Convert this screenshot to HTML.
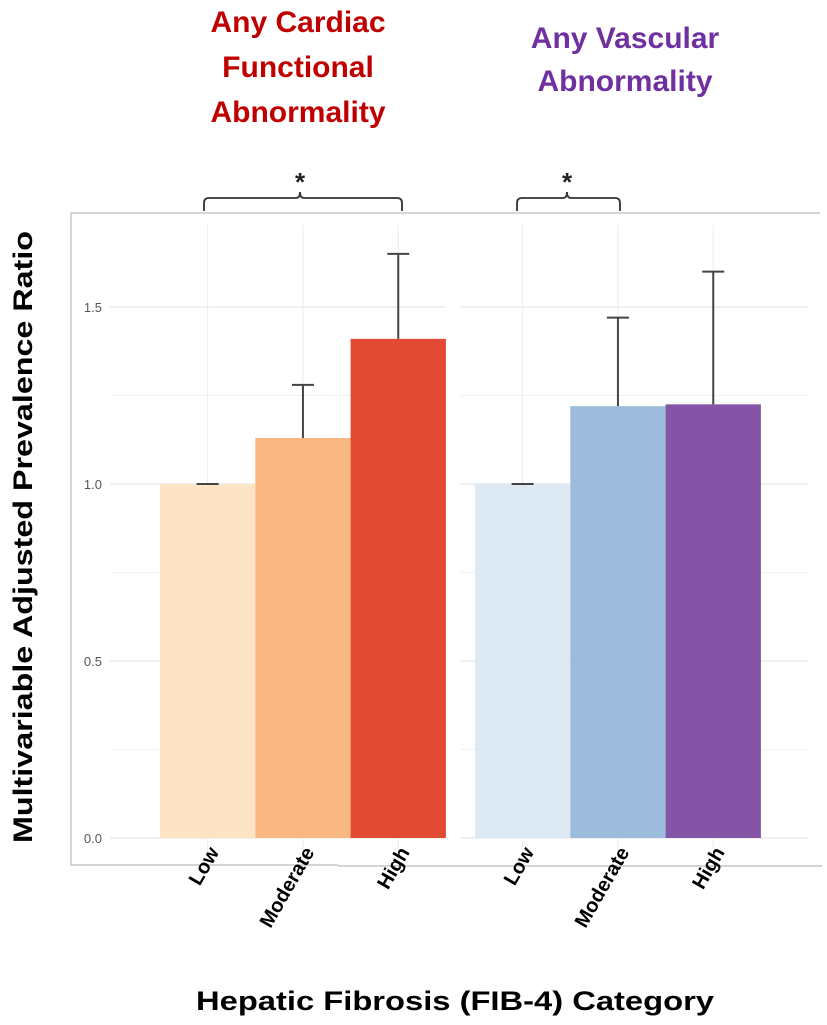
<!DOCTYPE html>
<html><head><meta charset="utf-8"><style>
html,body{margin:0;padding:0;background:#fff;}
svg{display:block;font-family:"Liberation Sans",Arial,sans-serif;}
</style></head><body>
<svg id="chart" width="827" height="1025" viewBox="0 0 827 1025">
<g>
<text x="298" y="32" text-anchor="middle" font-size="30" font-weight="bold" fill="#c00000"><tspan x="298">Any Cardiac</tspan><tspan x="298" dy="45">Functional</tspan><tspan x="298" dy="45">Abnormality</tspan></text>
<text x="625" y="48" text-anchor="middle" font-size="30" font-weight="bold" fill="#7030a0"><tspan x="625">Any Vascular</tspan><tspan x="625" dy="43">Abnormality</tspan></text>
</g>
<g id="grid"></g>
<g stroke="#bbb" stroke-width="1.2" fill="none">
<path d="M71,213 H820 M71,213 V865 H338 M338,866 H822"/>
</g>
<g id="bars"></g>
<g id="yaxis"></g>
<g id="xaxis"></g>
<g stroke="#333" stroke-width="1.8" fill="none">
<path d="M204,211 V203 Q204,198 209,198 H296 Q300,198 300,192 Q300,198 304,198 H397 Q402,198 402,203 V211"/>
<path d="M517,211 V203 Q517,198 522,198 H563 Q567,198 567,192 Q567,198 571,198 H615 Q620,198 620,203 V211"/>
</g>
<text x="300" y="191" text-anchor="middle" font-size="26" font-weight="bold" fill="#222">*</text>
<text x="567" y="191" text-anchor="middle" font-size="26" font-weight="bold" fill="#222">*</text>
<text transform="translate(32,537) rotate(-90)" text-anchor="middle" font-size="27" font-weight="bold" fill="#000" textLength="612" lengthAdjust="spacingAndGlyphs">Multivariable Adjusted Prevalence Ratio</text>
<text x="455" y="1010" text-anchor="middle" font-size="27" font-weight="bold" fill="#000" textLength="518" lengthAdjust="spacingAndGlyphs">Hepatic Fibrosis (FIB-4) Category</text>
</svg>
<script>
const categories = ["Low","Moderate","High"];
const cardiacValues = [1.0, 1.13, 1.41];
const cardiacUpper = [1.0, 1.28, 1.65];
const vascularValues = [1.0, 1.22, 1.225];
const vascularUpper = [1.0, 1.47, 1.60];
const yTicks = [0.0, 0.5, 1.0, 1.5];
const yTickLabels = ["0.0","0.5","1.0","1.5"];
const yMinor = [0.25, 0.75, 1.25];

const NS = "http://www.w3.org/2000/svg";
const y = v => 838 - v * 354;
const panels = [
  {start:160, vals:cardiacValues, up:cardiacUpper, colors:["#fde4c4","#f9b882","#e24a33"], name:"cardiac", gx0:110, gx1:445},
  {start:475, vals:vascularValues, up:vascularUpper, colors:["#deeaf3","#9dbcdb","#8455a6"], name:"vascular", gx0:460, gx1:808}
];
const bw = 95.3;
const xc = (p,i) => p.start + bw*i + bw/2;
function mk(tag, attrs, parent){const e=document.createElementNS(NS,tag);for(const k in attrs)e.setAttribute(k,attrs[k]);parent.appendChild(e);return e;}
const grid=document.getElementById('grid'), bars=document.getElementById('bars'), ya=document.getElementById('yaxis'), xa=document.getElementById('xaxis');
panels.forEach(p=>{
  yTicks.forEach(t=>{const l=mk('line',{x1:p.gx0,x2:p.gx1,y1:y(t),y2:y(t),stroke:'#e6e6e6','stroke-width':1.3},grid);
    
    });
  yMinor.forEach(t=>{const l=mk('line',{x1:p.gx0,x2:p.gx1,y1:y(t),y2:y(t),stroke:'#f2f2f2','stroke-width':1},grid);
    
    });
  categories.forEach((c,i)=>{const l=mk('line',{x1:xc(p,i),x2:xc(p,i),y1:225,y2:855,stroke:'#ececec','stroke-width':1},grid);
    
    });
  categories.forEach((c,i)=>{
    const v=p.vals[i];
    const r=mk('rect',{x:p.start+bw*i,y:y(v),width:bw,height:y(0)-y(v),fill:p.colors[i]},bars);
    
    
    const cx=xc(p,i);
    const g=mk('g',{stroke:'#444','stroke-width':2},bars);
    
    
    mk('line',{x1:cx,x2:cx,y1:y(v),y2:y(p.up[i])},g);
    mk('line',{x1:cx-11,x2:cx+11,y1:y(p.up[i]),y2:y(p.up[i])},g);
    const t=mk('text',{transform:`translate(${cx+12},${852}) rotate(-60)`,'text-anchor':'end','font-size':20,'font-weight':'bold',fill:'#000'},xa);
    t.textContent=c;
    
    
  });
});
yTicks.forEach((t,i)=>{const e=mk('text',{x:102,y:y(t)+5,'text-anchor':'end','font-size':13,fill:'#555'},ya);
  e.textContent=yTickLabels[i];
  
  });
</script>
</body></html>
